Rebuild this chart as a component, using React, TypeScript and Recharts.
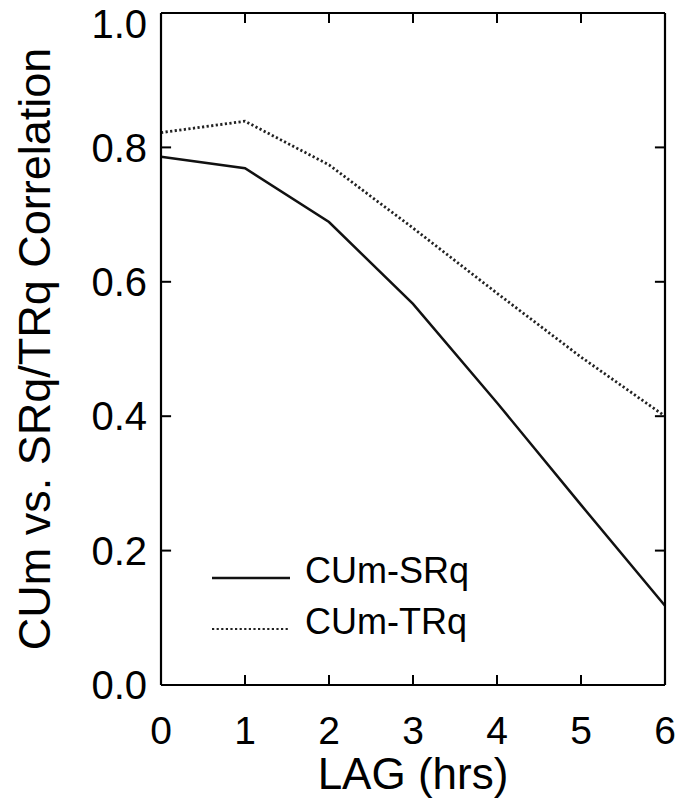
import { LineChart, Line, XAxis, YAxis, Legend, Label, ReferenceLine } from 'recharts'

// lag in hours and the two correlation curves
const lags = [0, 1, 2, 3, 4, 5, 6]
const srqCorr = [0.786, 0.769, 0.689, 0.567, 0.42, 0.268, 0.118]
const trqCorr = [0.822, 0.839, 0.774, 0.68, 0.583, 0.488, 0.4]
const yTicks = [0, 0.2, 0.4, 0.6, 0.8, 1.0]
const seriesNames = ['CUm-SRq', 'CUm-TRq']

const data = lags.map((lag, i) => ({ lag, srq: srqCorr[i], trq: trqCorr[i] }))

const FONT = '"Liberation Sans", Arial, Helvetica, sans-serif'
const INK = '#000'

// inward tick marks, in data units (about 10px on this plot)
const TICK_X = 0.12
const TICK_Y = 0.015
const innerX = lags.slice(1, -1)
const innerY = yTicks.slice(1, -1)

const lineStyles = [
  { stroke: '#111', strokeWidth: 2.5, dash: undefined as string | undefined },
  { stroke: '#222', strokeWidth: 2.8, dash: '2.2 2.4' },
]

function LegendBox() {
  return (
    <svg width={320} height={120} style={{ display: 'block', fontFamily: FONT }}>
      {seriesNames.map((name, i) => {
        const base = 43 + i * 51
        const s = lineStyles[i]
        return (
          <g key={name}>
            <line
              x1={12}
              x2={90}
              y1={base - 5}
              y2={base - 5}
              stroke={s.stroke}
              strokeWidth={i === 0 ? s.strokeWidth : 2.2}
              strokeDasharray={s.dash}
            />
            <text x={105} y={base} fontSize={36} fill={INK}>
              {name}
            </text>
          </g>
        )
      })}
    </svg>
  )
}

const tickStroke = { stroke: INK, strokeWidth: 2 }

export default function App() {
  return (
    <div style={{ position: 'absolute', left: 0, top: 0, background: '#fff' }}>
      <LineChart
        width={680}
        height={803}
        data={data}
        margin={{ top: 12, right: 14, bottom: 0, left: 0 }}
      >
        <XAxis
          dataKey="lag"
          type="number"
          domain={[0, 6]}
          ticks={lags}
          height={118}
          axisLine={{ stroke: INK, strokeWidth: 2.2 }}
          tickLine={false}
          tickSize={0}
          tickMargin={31}
          tick={{ fontSize: 39, fill: INK, fontFamily: FONT }}
        >
          <Label
            content={({ viewBox }: any) => (
              <text
                x={viewBox.x + viewBox.width / 2}
                y={viewBox.y + 104}
                textAnchor="middle"
                fontSize={44}
                fontFamily={FONT}
                fill={INK}
              >
                LAG (hrs)
              </text>
            )}
          />
        </XAxis>
        <XAxis
          xAxisId="top"
          orientation="top"
          dataKey="lag"
          type="number"
          domain={[0, 6]}
          ticks={lags}
          height={1}
          axisLine={{ stroke: INK, strokeWidth: 2.2 }}
          tickLine={false}
          tickFormatter={() => ''}
        />
        <YAxis
          type="number"
          domain={[0, 1]}
          ticks={yTicks}
          width={161}
          axisLine={{ stroke: INK, strokeWidth: 2.2 }}
          tickLine={false}
          tickSize={0}
          tickMargin={14}
          tickFormatter={(v: number) => v.toFixed(1)}
          tick={{ fontSize: 40, fill: INK, fontFamily: FONT }}
        >
          <Label
            content={({ viewBox }: any) => {
              const cx = viewBox.x + 50
              const cy = viewBox.y + viewBox.height / 2
              return (
                <text
                  x={cx}
                  y={cy}
                  transform={`rotate(-90 ${cx} ${cy})`}
                  textAnchor="middle"
                  fontSize={45}
                  fontFamily={FONT}
                  fill={INK}
                >
                  CUm vs. SRq/TRq Correlation
                </text>
              )
            }}
          />
        </YAxis>
        <YAxis
          yAxisId="right"
          orientation="right"
          type="number"
          domain={[0, 1]}
          ticks={yTicks}
          width={1}
          axisLine={{ stroke: INK, strokeWidth: 2.2 }}
          tickLine={false}
          tickFormatter={() => ''}
        />

        {/* tick marks pointing into the plot on all four sides */}
        {innerX.map((x) => (
          <ReferenceLine
            key={`b${x}`}
            segment={[{ x, y: 0 }, { x, y: TICK_Y }]}
            {...tickStroke}
          />
        ))}
        {innerX.map((x) => (
          <ReferenceLine
            key={`t${x}`}
            segment={[{ x, y: 1 }, { x, y: 1 - TICK_Y }]}
            {...tickStroke}
          />
        ))}
        {innerY.map((y) => (
          <ReferenceLine
            key={`l${y}`}
            segment={[{ x: 0, y }, { x: TICK_X, y }]}
            {...tickStroke}
          />
        ))}
        {innerY.map((y) => (
          <ReferenceLine
            key={`r${y}`}
            segment={[{ x: 6, y }, { x: 6 - TICK_X, y }]}
            {...tickStroke}
          />
        ))}

        <Legend
          layout="vertical"
          align="center"
          verticalAlign="middle"
          wrapperStyle={{ left: 200, top: 540, width: 320 }}
          content={() => <LegendBox />}
        />
        <Line
          type="linear"
          dataKey="srq"
          name={seriesNames[0]}
          stroke={lineStyles[0].stroke}
          strokeWidth={lineStyles[0].strokeWidth}
          dot={false}
          isAnimationActive={false}
        />
        <Line
          type="linear"
          dataKey="trq"
          name={seriesNames[1]}
          stroke={lineStyles[1].stroke}
          strokeWidth={lineStyles[1].strokeWidth}
          strokeDasharray={lineStyles[1].dash}
          dot={false}
          isAnimationActive={false}
        />
      </LineChart>
    </div>
  )
}
